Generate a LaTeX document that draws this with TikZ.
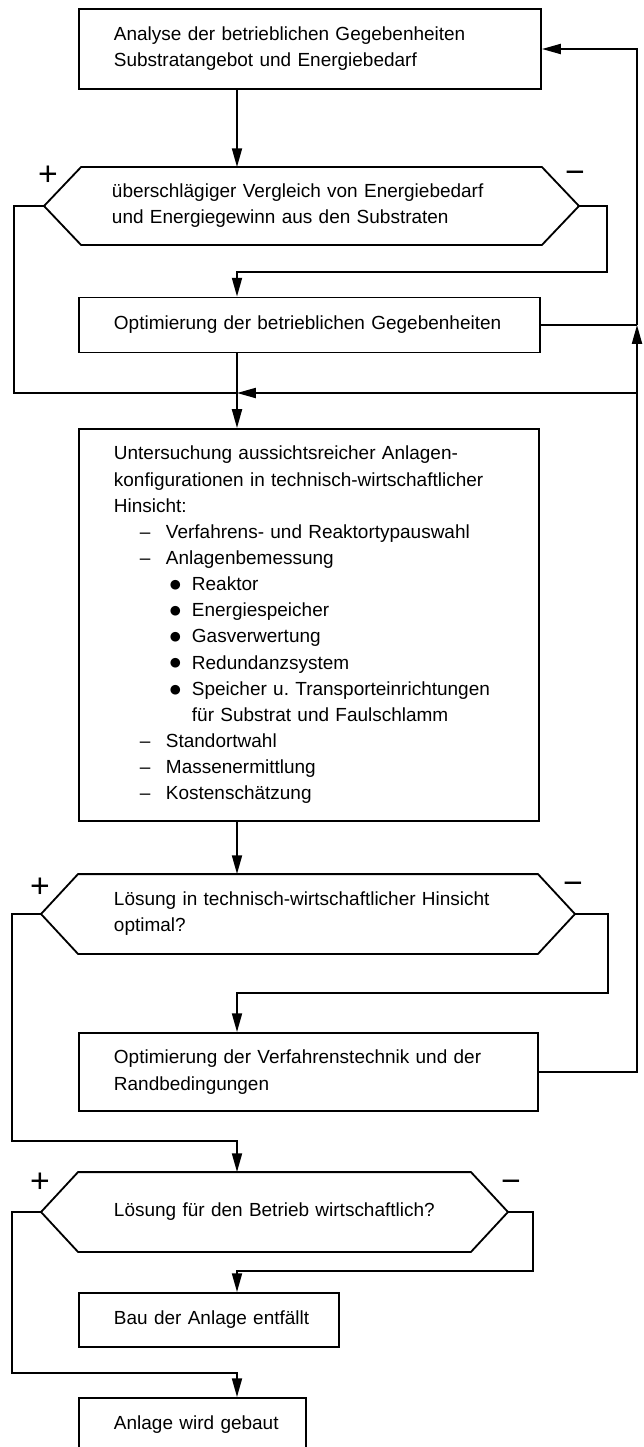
\documentclass[tikz,border=0pt]{standalone}
\usepackage{fontspec}
\setmainfont{Liberation Sans}
\newfontfamily\dejavu{DejaVu Sans}
\usetikzlibrary{arrows.meta,calc}
\frenchspacing
\newcommand{\dashitem}[1]{\hspace*{0.65cm}\makebox[0.65cm][l]{--}#1}
\newcommand{\dotitem}[1]{\hspace*{1.4cm}\makebox[0.55cm][l]{\raisebox{1.6pt}{\dejavu\fontsize{9}{0}\selectfont ●}}#1}
\newcommand{\dotindent}{\hspace*{1.95cm}}

\begin{document}
\begin{tikzpicture}[x=0.025cm, y=-0.025cm, line width=1.3pt,
	lpad/.style={execute at begin node={\leftskip=#1}},
	stepbox/.style={draw, inner xsep=0pt, inner ysep=0pt, align=left, lpad=0.875cm,
		font=\fontsize{13.5}{18.6}\selectfont},
	query/.style={stepbox, draw=none},
	sign/.style={anchor=base, inner sep=0pt, font=\fontsize{24}{24}\selectfont},
	arr/.style={-{Triangle[length=0.47cm,width=0.25cm]}}]
	\useasboundingbox (0,0) rectangle (644,1447);
	\clip (0,0) rectangle (644,1447);

	\node[stepbox, text width=11.55cm, minimum height=2cm] (analyse) at (310,49)
		{Analyse der betrieblichen Gegebenheiten\\Substratangebot und Energiebedarf};
	\node[query, text width=11.475cm, minimum height=1.9cm, lpad=0.75cm] (vergleich) at (311.5,206)
		{überschlägiger Vergleich von Energiebedarf\\und Energiegewinn aus den Substraten};
	\node[stepbox, text width=11.525cm, minimum height=1.375cm] (optbetrieb) at (309.5,325)
		{Optimierung der betrieblichen Gegebenheiten};
	\node[stepbox, text width=11.5cm, minimum height=9.8cm] (untersuchung) at (309,625)
		{Untersuchung aussichtsreicher Anlagen-\\
		konfigurationen in technisch-wirtschaftlicher\\
		Hinsicht:\\
		\dashitem{Verfahrens- und Reaktortypauswahl}\\
		\dashitem{Anlagenbemessung}\\
		\dotitem{Reaktor}\\
		\dotitem{Energiespeicher}\\
		\dotitem{Gasverwertung}\\
		\dotitem{Redundanzsystem}\\
		\dotitem{Speicher u. Transporteinrichtungen}\\
		\dotindent für Substrat und Faulschlamm\\
		\dashitem{Standortwahl}\\
		\dashitem{Massenermittlung}\\
		\dashitem{Kostenschätzung}};
	\node[query, text width=11.45cm, minimum height=1.95cm] (optimal) at (308,914)
		{Lösung in technisch-wirtschaftlicher Hinsicht\\optimal?};
	\node[stepbox, text width=11.475cm, minimum height=1.95cm] (optverfahren) at (308.5,1072)
		{Optimierung der Verfahrenstechnik und der\\Randbedingungen};
	\node[query, text width=9.775cm, minimum height=1.95cm] (wirtschaftlich) at (274.5,1212)
		{Lösung für den Betrieb wirtschaftlich?};
	\node[stepbox, text width=6.5cm, minimum height=1.35cm] (entfaellt) at (209,1320)
		{Bau der Anlage entfällt};
	\node[stepbox, text width=5.675cm, minimum height=1.35cm] (gebaut) at (192.5,1425)
		{Anlage wird gebaut};

	\foreach \q in {vergleich,optimal,wirtschaftlich} {
		\coordinate (\q-r) at ($(\q.east)+(37,0)$);
		\coordinate (\q-l) at ($(\q.west)+(-37,0)$);
		\draw (\q.north west) -- (\q.north east) -- (\q-r) -- (\q.south east)
			-- (\q.south west) -- (\q-l) -- cycle;
	}

	\node[sign] (plus1) at (48,185) {+};
	\node[sign] (minus1) at (575,183) {−};
	\node[sign] (plus2) at (40,897) {+};
	\node[sign] (minus2) at (573,894) {−};
	\node[sign] (plus3) at (40,1192) {+};
	\node[sign] (minus3) at (511,1192) {−};

	\coordinate (m) at (237,0);
	\coordinate (join) at (237,393);
	\coordinate (rueck) at (637,325);
	\coordinate (rueck2) at (637,393);

	\draw[arr] (analyse.south -| m) -- (vergleich.north -| m);
	\draw[arr] (vergleich-r) -| (607,272) -| (optbetrieb.north -| m);
	\draw (vergleich-l) -| (14,393) -- (join);
	\draw[arr] (optbetrieb.south -| m) -- (untersuchung.north -| m);
	\draw (optbetrieb.east) -- (rueck);
	\draw[arr] (optverfahren.east) -| (rueck);
	\draw[arr] (rueck) |- (analyse.east);
	\draw[arr] (rueck2) -- (join);
	\draw[arr] (untersuchung.south -| m) -- (optimal.north -| m);
	\draw[arr] (optimal-r) -| (608,993) -| (optverfahren.north -| m);
	\draw[arr] (optimal-l) -| (12,1141) -| (wirtschaftlich.north -| m);
	\draw[arr] (wirtschaftlich-r) -| (533,1271) -| (entfaellt.north -| m);
	\draw[arr] (wirtschaftlich-l) -| (12,1373) -| (gebaut.north -| m);
\end{tikzpicture}
\end{document}
